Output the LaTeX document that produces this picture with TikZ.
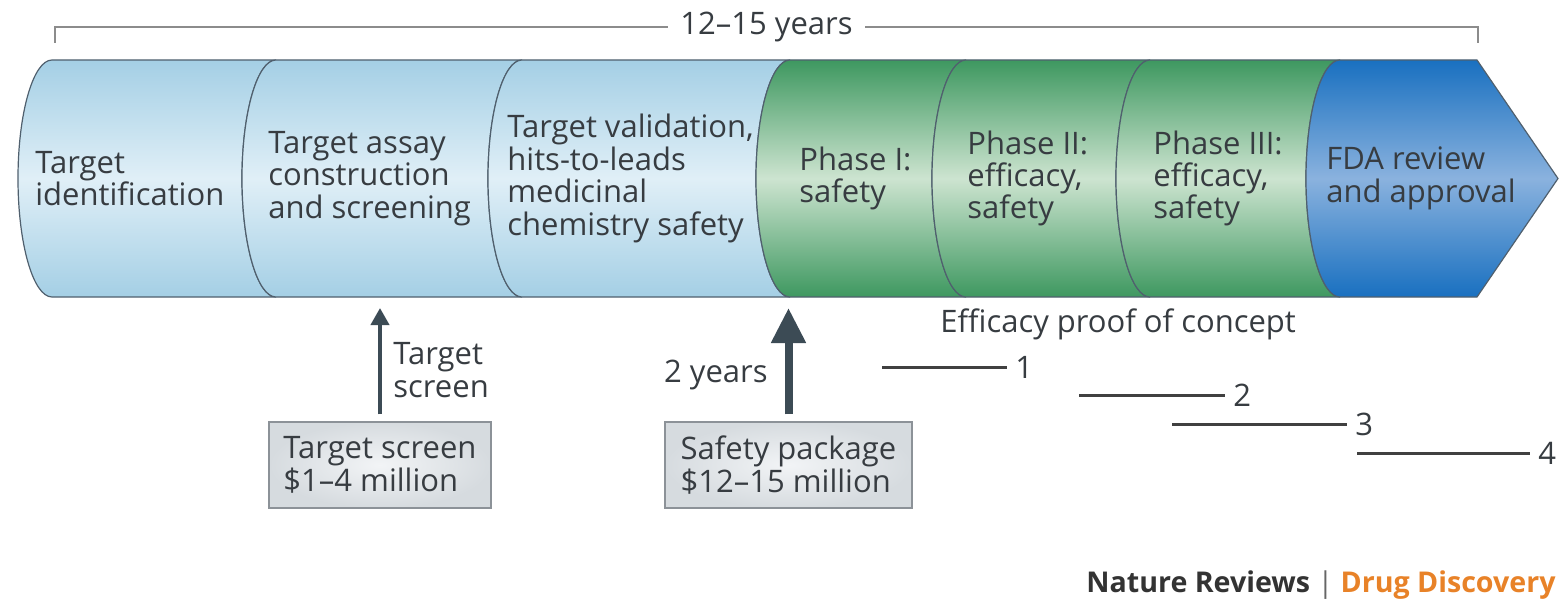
\documentclass[tikz,border=0pt]{standalone}
\usepackage{fontspec}
\setmainfont{Open Sans}
\usetikzlibrary{arrows.meta,positioning}
\definecolor{ink}{RGB}{55,60,65}
\definecolor{paleE}{RGB}{164,207,229}
\definecolor{paleM}{RGB}{224,239,247}
\definecolor{leafE}{RGB}{62,152,96}
\definecolor{leafM}{RGB}{205,228,208}
\definecolor{seaE}{RGB}{25,112,192}
\definecolor{seaM}{RGB}{138,178,222}
\definecolor{rim}{RGB}{80,96,110}
\definecolor{shaft}{RGB}{60,75,85}
\definecolor{boxE}{RGB}{214,219,223}
\definecolor{boxM}{RGB}{242,244,246}
\definecolor{boxrim}{RGB}{140,146,152}
\definecolor{brand}{RGB}{232,130,40}
\tikzstyle{pale}=[top color=paleE,bottom color=paleE,middle color=paleM]
\tikzstyle{leaf}=[top color=leafE,bottom color=leafE,middle color=leafM]
\tikzstyle{sea}=[top color=seaE,bottom color=seaE,middle color=seaM]
\begin{document}
\begin{tikzpicture}[x=0.5pt,y=-0.5pt]
    \useasboundingbox (0,0) rectangle (1560,599);
    \tikzstyle{band}=[draw=rim,line width=0.6pt]
    \tikzstyle{lbl}=[anchor=west,align=left,inner sep=0pt,text=ink,
      font=\fontsize{15.5}{16.2}\selectfont]
    % the pipeline
    \foreach \a/\b/\c in {52/276/pale,276/522/pale,522/790/pale,
                          790/966/leaf,966/1150/leaf,1150/1340/leaf}
      \draw[band,\c] (\a,60) arc[start angle=270,end angle=90,x radius=34,y radius=118.5]
        -- (\b,297) arc[start angle=90,end angle=270,x radius=34,y radius=118.5] -- cycle;
    \draw[band,sea] (1340,60) arc[start angle=270,end angle=90,x radius=34,y radius=118.5]
      -- (1477,297) -- (1558,178.5) -- (1477,60) -- cycle;
    %
    \node[lbl](tid) at (35,178.5){Target\\identification};
    \node[lbl](tas) at (268,178.5){Target assay\\construction\\and screening};
    \node[lbl](tval) at (507,178.5){Target validation,\\hits-to-leads\\medicinal\\chemistry safety};
    \node[lbl](ph1) at (799,178.5){Phase I:\\safety};
    \node[lbl](ph2) at (967,178.5){Phase II:\\efficacy,\\safety};
    \node[lbl](ph3) at (1153,178.5){Phase III:\\efficacy,\\safety};
    \node[lbl](fda) at (1326,178.5){FDA review\\and approval};
    % overall span
    \draw[draw=black!45,line width=0.75pt] (55,43) -- (55,27)
      -- node[lbl,anchor=center,fill=white,inner xsep=6pt](span){12--15 years} (1478,27)
      -- (1478,43);
    % cost boxes and arrows
    \tikzstyle{cost}=[lbl,anchor=center,draw=boxrim,line width=0.6pt,
      inner color=boxM,outer color=boxE,minimum height=43pt]
    \node[cost,minimum width=111pt](scrbox) at (380,465){Target screen\\\$1--4 million};
    \node[cost,minimum width=123.5pt](safbox) at (788.5,465){Safety package\\\$12--15 million};
    \coordinate (scrtip) at (380,308);
    \coordinate (saftip) at (788.5,308);
    \tikzstyle{arr}=[color=shaft,shorten <=3.5pt]
    \draw[arr,line width=2pt,-{Triangle[length=8.5pt,width=9pt]}] (scrbox.north) -- (scrtip);
    \draw[arr,line width=4pt,-{Triangle[length=17.5pt,width=16.5pt]}] (safbox.north) -- (saftip);
    \node[lbl](scrlbl) at (393,370){Target\\screen};
    \node[lbl,anchor=base east](yrs) at (768,382){2 years};
    % proof of concept
    \node[lbl,anchor=base west](poc) at (940,332){Efficacy proof of concept};
    \tikzstyle{bar}=[draw=black!75,line width=1.5pt]
    \foreach \i/\s/\e/\y in {1/882/1007/367,2/1079/1225/395,3/1172/1347/424,4/1357/1530/453}{
      \coordinate (s\i) at (\s,\y);
      \node[lbl,inner xsep=4pt](n\i) at (\e,\y){\i};
      \draw[bar] (s\i) -- (n\i.west);
    }
    % credit
    \node[anchor=base east,inner sep=0pt,font=\fontsize{14.3}{16}\selectfont](credit)
      at (1556,592){\bfseries\color{black!80}Nature Reviews {\mdseries\color{black!60}|} \color{brand}Drug Discovery};
\end{tikzpicture}
\end{document}
